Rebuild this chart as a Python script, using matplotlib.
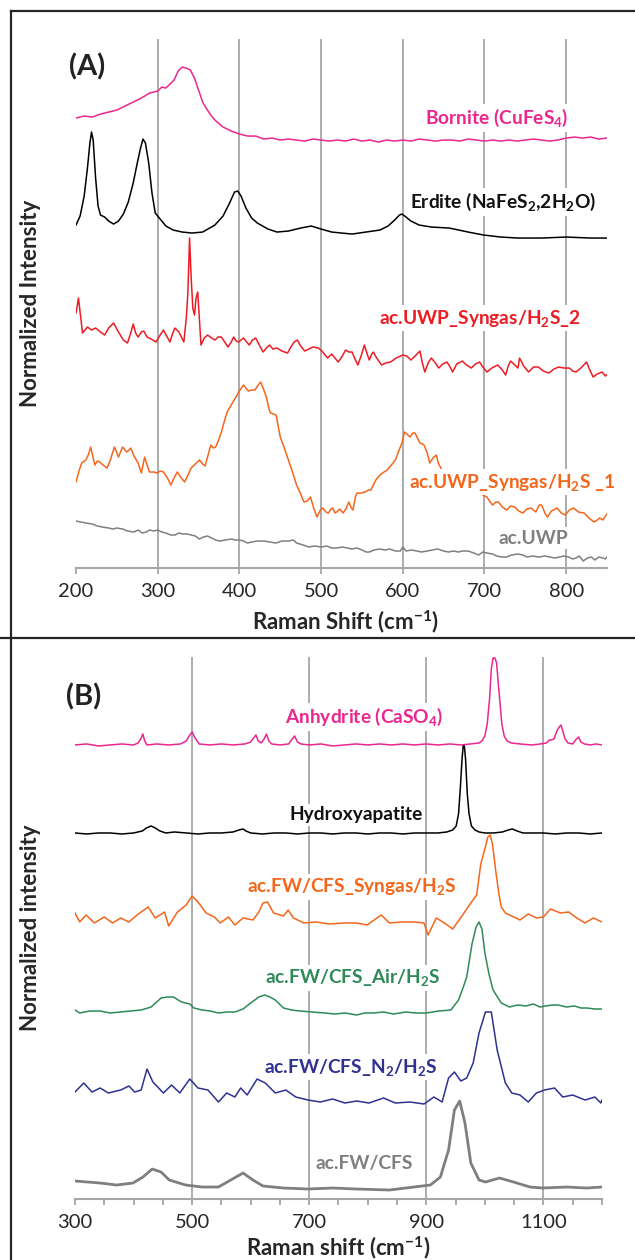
import matplotlib
matplotlib.use("Agg")
import matplotlib.pyplot as plt
from matplotlib.lines import Line2D

plt.rcParams['font.family'] = ['Lato', 'DejaVu Sans']
plt.rcParams['mathtext.fontset'] = 'custom'
plt.rcParams['mathtext.rm'] = 'Lato'
plt.rcParams['mathtext.bf'] = 'Lato:bold'
plt.rcParams['mathtext.it'] = 'Lato:italic'

# ---------------- panel A data (Raman shift, cm-1 / offset intensity, a.u.) ----------------
bornite_x = [200, 210, 220, 230, 240, 250, 260, 270, 280, 290, 300, 305, 310, 315, 320, 325, 330, 335,
             340, 345, 350, 355, 360, 365, 370, 380, 390, 400, 410, 420, 430, 440, 450, 460, 470, 480,
             490, 500, 510, 520, 530, 540, 550, 560, 570, 580, 590, 600, 610, 620, 630, 640, 650, 660,
             670, 680, 690, 700, 710, 720, 730, 740, 750, 760, 770, 780, 790, 800, 810, 820, 830, 840, 850]
bornite_y = [450, 452, 451, 454, 456, 458, 462, 466, 470, 475, 477, 481, 480, 484, 488, 497, 501, 500,
             498, 490, 478, 466, 459, 453, 448, 441, 437, 434, 432, 432, 429, 430, 428, 429, 428, 427,
             429, 428, 427, 428, 427, 429, 427, 428, 426, 428, 427, 428, 427, 429, 428, 427, 428, 428,
             427, 429, 428, 427, 428, 427, 428, 427, 428, 429, 428, 427, 428, 430, 431, 430, 431, 429, 430]

erdite_x = [200, 205, 210, 214, 217, 219, 221, 224, 227, 230, 235, 240, 246, 252, 258, 264, 270, 275,
            279, 282, 285, 289, 293, 297, 302, 310, 319, 330, 342, 355, 370, 380, 388, 394, 398, 402,
            408, 415, 422, 435, 446, 460, 475, 488, 500, 513, 525, 538, 555, 572, 582, 590, 596, 599,
            604, 610, 620, 635, 657, 680, 699, 720, 741, 770, 800, 830, 850]
erdite_y = [343, 352, 372, 400, 425, 436, 428, 390, 362, 353, 351, 347, 344, 347, 354, 366, 385, 405,
            420, 429, 425, 405, 375, 355, 350, 342, 338, 336, 335, 336, 343, 352, 365, 376, 377, 372,
            360, 350, 345, 339, 336, 337, 340, 342, 339, 336, 335, 334, 336, 338, 342, 348, 353, 354,
            351, 347, 343, 341, 340, 336, 333, 331, 330, 330, 331, 330, 330]

syn2_x = [200, 203, 208, 214, 219, 224, 230, 235, 240, 246, 252, 258, 263, 267, 270, 273, 276, 280,
          283, 287, 292, 298, 303, 307, 311, 315, 318, 321, 326, 332, 335, 337, 339, 341, 343, 345,
          347, 349, 351, 353, 357, 361, 366, 370, 374, 378, 382, 386, 390, 393, 396, 399, 402, 405,
          409, 412, 416, 420, 425, 429, 433, 437, 441, 446, 452, 459, 463, 467, 471, 475, 480, 485,
          490, 497, 502, 508, 513, 521, 526, 530, 534, 538, 541, 545, 549, 553, 556, 559, 562, 564,
          568, 574, 579, 585, 592, 600, 605, 610, 615, 621, 624, 627, 631, 635, 640, 644, 649, 654,
          658, 661, 666, 673, 678, 684, 689, 694, 698, 703, 709, 716, 721, 726, 729, 732, 736, 741,
          743, 748, 754, 760, 766, 772, 779, 785, 791, 797, 804, 808, 812, 818, 825, 829, 833, 838,
          844, 848, 851]
syn2_y = [255, 270, 235, 241, 238, 240, 236, 233, 240, 245, 236, 228, 225, 235, 244, 235, 231, 236,
          237, 231, 229, 226, 233, 238, 232, 226, 234, 240, 236, 226, 250, 276, 330, 290, 260, 253,
          270, 276, 250, 223, 230, 233, 230, 228, 231, 231, 226, 221, 226, 231, 227, 226, 228, 230,
          226, 223, 228, 230, 222, 216, 220, 223, 219, 220, 217, 215, 221, 226, 228, 222, 217, 219,
          221, 220, 216, 210, 214, 206, 212, 218, 216, 216, 210, 203, 212, 223, 215, 208, 214, 216,
          210, 203, 205, 206, 210, 213, 212, 208, 212, 217, 205, 196, 205, 210, 205, 200, 204, 206,
          201, 196, 204, 207, 203, 200, 204, 206, 201, 196, 200, 203, 199, 193, 202, 207, 204, 200,
          210, 202, 196, 201, 201, 197, 195, 199, 201, 200, 200, 197, 196, 200, 206, 198, 191, 194,
          196, 192, 194]

syn1_x = [200, 204, 207, 212, 215, 218, 221, 223, 226, 229, 233, 238, 242, 247, 250, 252, 255, 257,
          260, 262, 265, 267, 271, 276, 280, 282, 284, 287, 290, 295, 299, 303, 307, 312, 316, 320,
          324, 328, 333, 337, 341, 346, 351, 355, 358, 362, 365, 368, 371, 375, 378, 382, 385, 390,
          395, 400, 405, 408, 411, 415, 419, 423, 426, 430, 433, 436, 438, 442, 445, 450, 455, 460,
          465, 470, 475, 479, 483, 487, 491, 495, 499, 502, 506, 509, 512, 514, 517, 519, 523, 527,
          531, 534, 537, 539, 542, 544, 549, 554, 558, 561, 567, 572, 577, 581, 586, 591, 595, 599,
          602, 605, 609, 612, 615, 618, 621, 624, 626, 630, 633, 637, 641, 644, 646, 650, 655, 660,
          665, 670, 674, 678, 683, 688, 693, 698, 703, 707, 710, 714, 717, 722, 727, 732, 737, 742,
          747, 752, 757, 763, 767, 770, 774, 777, 782, 789, 794, 799, 804, 809, 815, 822, 828, 834,
          838, 841, 845, 848, 851]
syn1_y = [86, 98, 105, 108, 113, 121, 110, 103, 107, 106, 103, 100, 108, 121, 115, 111, 117, 121,
          118, 116, 118, 120, 112, 105, 95, 103, 111, 103, 96, 96, 95, 97, 96, 90, 83, 90,
          96, 91, 86, 93, 100, 104, 108, 104, 102, 114, 123, 120, 121, 129, 136, 148, 156, 163,
          170, 177, 183, 180, 177, 178, 178, 183, 186, 178, 171, 160, 155, 154, 153, 131, 120, 108,
          96, 83, 74, 66, 67, 71, 60, 51, 58, 60, 56, 55, 59, 60, 55, 56, 59, 55,
          60, 66, 60, 58, 71, 75, 75, 76, 78, 78, 88, 93, 96, 98, 103, 108, 117, 125,
          136, 134, 131, 135, 135, 130, 125, 124, 123, 115, 105, 110, 113, 104, 101, 95, 88, 82,
          80, 78, 76, 75, 74, 75, 76, 73, 71, 66, 63, 66, 66, 61, 58, 62, 61, 57,
          55, 59, 60, 56, 63, 63, 55, 51, 57, 60, 55, 53, 58, 60, 56, 55, 50, 46,
          48, 50, 48, 52, 55]

uwp_x = [200, 206, 212, 220, 226, 232, 240, 245, 250, 257, 263, 271, 276, 281, 286, 290, 295, 300,
         305, 310, 316, 321, 326, 331, 336, 341, 346, 351, 356, 361, 366, 371, 376, 383, 390, 395,
         400, 405, 410, 415, 422, 430, 437, 445, 452, 460, 466, 470, 478, 485, 492, 500, 507, 513,
         519, 526, 532, 538, 544, 550, 555, 559, 565, 572, 578, 584, 591, 597, 600, 604, 611, 617,
         623, 630, 636, 643, 650, 656, 662, 668, 673, 680, 687, 693, 698, 703, 710, 715, 721, 727,
         733, 741, 747, 752, 759, 767, 774, 780, 786, 792, 797, 803, 808, 812, 816, 821, 826, 831,
         835, 840, 845, 848, 851]
uwp_y = [47, 46, 45, 44, 42, 41, 40, 39, 40, 39, 37, 36, 38, 35, 36, 38, 37, 38,
         36, 35, 33, 33, 35, 34, 34, 33, 32, 29, 31, 32, 30, 28, 27, 28, 29, 28,
         28, 27, 25, 26, 27, 27, 26, 25, 27, 27, 28, 25, 23, 21, 22, 21, 22, 20,
         20, 21, 20, 19, 20, 18, 16, 16, 18, 19, 18, 19, 17, 17, 21, 17, 18, 17,
         16, 17, 18, 19, 17, 16, 17, 16, 17, 17, 15, 13, 16, 15, 14, 12, 11, 11,
         13, 14, 13, 11, 12, 11, 12, 11, 10, 11, 12, 11, 9, 10, 12, 7, 10, 11,
         8, 11, 10, 9, 12]

# ---------------- panel B data ----------------
anhy_x = [300, 320, 340, 360, 380, 400, 408, 413, 416, 419, 423, 440, 460, 480, 490, 495, 500, 505,
          512, 530, 550, 570, 590, 600, 605, 609, 613, 618, 623, 627, 631, 636, 650, 665, 671, 675,
          680, 686, 700, 720, 740, 760, 780, 800, 820, 840, 860, 880, 900, 920, 940, 960, 975, 990,
          995, 1000, 1004, 1008, 1011, 1014, 1017, 1020, 1023, 1026, 1029, 1033, 1038, 1045, 1060,
          1080, 1095, 1105, 1110, 1113, 1118, 1123, 1127, 1130, 1133, 1137, 1142, 1150, 1155, 1160,
          1164, 1170, 1180, 1190, 1200]
anhy_y = [454, 455, 453, 454, 455, 454, 456, 461, 465, 458, 454, 455, 454, 455, 458, 463, 467, 461,
          455, 454, 455, 454, 455, 457, 461, 464, 458, 456, 460, 465, 458, 455, 454, 455, 460, 463,
          457, 455, 454, 455, 453, 454, 455, 454, 455, 454, 455, 454, 455, 454, 455, 454, 455, 456,
          458, 463, 475, 500, 530, 541, 541, 536, 515, 495, 475, 463, 458, 456, 455,
          454, 455, 456, 459, 459, 460, 468, 472, 474, 468, 460, 456, 455, 459, 462,
          457, 455, 454, 455, 454]

hap_x = [300, 320, 340, 360, 380, 400, 415, 422, 430, 437, 445, 455, 470, 490, 510, 530, 550, 570,
         580, 587, 592, 600, 620, 640, 660, 680, 700, 720, 740, 760, 780, 800, 820, 840, 860, 880,
         900, 920, 935, 945, 951, 955, 958, 961, 963, 965, 967, 970, 973, 977, 983, 990, 1000, 1015,
         1030, 1040, 1047, 1055, 1065, 1080, 1100, 1120, 1140, 1160, 1180, 1200]
hap_y = [366, 365, 366, 366, 365, 366, 368, 371, 373, 371, 368, 366, 367, 366, 365, 366, 366, 367,
         369, 370, 368, 366, 365, 366, 366, 365, 366, 366, 365, 366, 366, 365, 366, 366, 365, 366,
         366, 366, 367, 369, 373, 385, 410, 440, 453, 453, 440, 405, 385, 373, 369, 367, 366, 366,
         367, 369, 370, 368, 366, 366, 366, 365, 366, 366, 365, 366]

fwsyn_x = [300, 308, 319, 333, 350, 364, 378, 392, 406, 425, 437, 453, 460, 475, 490, 500, 510, 524,
           538, 548, 562, 573, 587, 604, 614, 621, 629, 639, 656, 664, 673, 691, 712, 733, 761, 781,
           799, 823, 837, 858, 879, 896, 903, 917, 931, 945, 962, 976, 986, 993, 1000, 1005, 1009,
           1013, 1019, 1024, 1028, 1035, 1042, 1060, 1074, 1088, 1100, 1112, 1129, 1143, 1157, 1171,
           1185, 1200]
fwsyn_y = [286, 277, 284, 276, 282, 276, 281, 277, 284, 292, 281, 287, 273, 287, 294, 303, 297, 286,
           282, 276, 282, 274, 281, 279, 287, 296, 297, 286, 283, 289, 281, 276, 277, 275, 276, 276,
           274, 284, 276, 277, 277, 276, 264, 281, 276, 270, 284, 296, 304, 335, 350, 362, 364,
           355, 326, 305, 292, 286, 284, 279, 285, 281, 282, 290, 286, 287, 281, 276,
           281, 277]

air_x = [300, 308, 325, 343, 360, 378, 395, 413, 430, 447, 458, 468, 482, 496, 503, 517, 531, 545,
         559, 573, 587, 600, 614, 624, 633, 642, 656, 670, 684, 705, 726, 744, 761, 781, 795, 809,
         827, 844, 865, 882, 900, 921, 942, 955, 962, 969, 978, 985, 990, 995, 1000, 1007, 1014,
         1028, 1042, 1056, 1070, 1083, 1094, 1104, 1115, 1125, 1139, 1153, 1164, 1174, 1188, 1200]
air_y = [189, 186, 188, 188, 186, 187, 188, 189, 192, 201, 202, 202, 197, 195, 191, 189, 188, 186,
         187, 187, 190, 196, 202, 204, 202, 199, 191, 189, 188, 187, 186, 185, 186, 184, 186, 186,
         187, 185, 187, 186, 186, 188, 189, 199, 210, 222, 255, 272, 277, 270, 246, 225, 209,
         196, 192, 194, 193, 195, 192, 193, 194, 194, 192, 193, 191, 191, 190, 190]

n2_x = [300, 315, 329, 343, 357, 378, 392, 402, 413, 423, 433, 451, 465, 479, 496, 510, 527, 545,
        559, 573, 583, 594, 611, 625, 642, 660, 677, 698, 719, 740, 761, 781, 802, 827, 847, 872,
        896, 913, 927, 938, 948, 959, 969, 980, 990, 1001, 1011, 1021, 1035, 1046, 1060, 1074, 1088,
        1102, 1119, 1133, 1150, 1171, 1188, 1198, 1200]
n2_y = [107, 116, 107, 111, 106, 109, 113, 107, 109, 130, 117, 106, 114, 106, 120, 111, 109, 97,
        106, 102, 111, 104, 120, 116, 106, 109, 102, 99, 97, 100, 96, 98, 96, 101, 96, 97,
        95, 102, 97, 121, 127, 118, 121, 136, 166, 187, 187, 149, 116, 106, 104, 97, 106,
        109, 111, 102, 104, 99, 102, 96, 99]

fw_x = [300, 343, 371, 399, 416, 432, 447, 461, 489, 517, 545, 566, 587, 604, 621, 656, 698, 740,
        781, 837, 879, 907, 924, 938, 948, 957, 966, 976, 990, 1001, 1025, 1049, 1077, 1098, 1140,
        1174, 1200]
fw_y = [18, 16, 14, 16, 22, 30, 27, 19, 14, 12, 12, 19, 26, 19, 13, 11, 10, 11,
        10, 9, 12, 14, 22, 49, 89, 98, 76, 36, 19, 17, 21, 17, 12, 11, 12,
        11, 12]

PINK = '#EC268F'
RED = '#ED1C24'
ORANGE = '#F4661B'
GREY = '#7F7F7F'
GREEN = '#2E8A57'
BLUE = '#2E3192'
GRID = '#A6A6A6'

fig = plt.figure(figsize=(6.35, 12.6), dpi=100)

axA = fig.add_axes([0.1197, 0.5492, 0.8362, 0.4198])
axB = fig.add_axes([0.1181, 0.0484, 0.8299, 0.4302])


def style_axes(ax, xlim, ylim, grid_at):
    ax.set_xlim(*xlim)
    ax.set_ylim(*ylim)
    for s in ['top', 'left', 'right']:
        ax.spines[s].set_visible(False)
    ax.spines['bottom'].set_color(GRID)
    ax.spines['bottom'].set_linewidth(1.5)
    ax.set_yticks([])
    ax.tick_params(axis='x', which='both', direction='out', color=GRID, width=1.3,
                   labelsize=14.5, labelcolor='#262626', pad=7)
    ax.tick_params(axis='x', which='major', length=4)
    ax.tick_params(axis='x', which='minor', length=4)
    for g in grid_at:
        ax.axvline(g, color=GRID, lw=1.3, zorder=0)


style_axes(axA, (200, 850), (0, 529), [300, 400, 500, 600, 700, 800])
axA.set_xticks([200, 300, 400, 500, 600, 700, 800])

axA.plot(bornite_x, bornite_y, color=PINK, lw=1.1)
axA.plot(erdite_x, erdite_y, color='black', lw=1.1)
axA.plot(syn2_x, syn2_y, color=RED, lw=1.1)
axA.plot(syn1_x, syn1_y, color=ORANGE, lw=1.1)
axA.plot(uwp_x, uwp_y, color=GREY, lw=1.1)

box = dict(facecolor='white', edgecolor='none', pad=2)
lab = dict(fontsize=13.8, fontweight='bold', ha='center', va='center', bbox=box, zorder=5, clip_on=False)
axA.text(213, 501, '(A)', fontsize=21, fontweight='bold', ha='center', va='center', color='#222222')
axA.text(715, 450, r'Bornite (CuFeS$_\mathbf{4}$)', color=PINK, **lab)
axA.text(723, 366, r'Erdite (NaFeS$_\mathbf{2}$,2H$_\mathbf{2}$O)', color='#111111', **lab)
axA.text(695, 250, r'ac.UWP_Syngas/H$_\mathbf{2}$S_2', color=RED, **lab)
axA.text(734, 86, r'ac.UWP_Syngas/H$_\mathbf{2}$S _1', color=ORANGE, **lab)
axA.text(760, 30, 'ac.UWP', color=GREY, **lab)

style_axes(axB, (300, 1200), (0, 542), [500, 700, 900, 1100])
axB.set_xticks([300, 500, 700, 900, 1100])
axB.set_xticks(list(range(350, 1201, 50)), minor=True)

axB.plot(anhy_x, anhy_y, color=PINK, lw=1.1)
axB.plot(hap_x, hap_y, color='black', lw=1.1)
axB.plot(fwsyn_x, fwsyn_y, color=ORANGE, lw=1.1)
axB.plot(air_x, air_y, color=GREEN, lw=1.1)
axB.plot(n2_x, n2_y, color=BLUE, lw=1.1)
axB.plot(fw_x, fw_y, color=GREY, lw=2.0)

axB.text(314, 502, '(B)', fontsize=21, fontweight='bold', ha='center', va='center', color='#222222')
axB.text(794, 482, r'Anhydrite (CaSO$_\mathbf{4}$)', color=PINK, **lab)
axB.text(780, 384, 'Hydroxyapatite', color='#111111', **lab)
axB.text(772, 312, r'ac.FW/CFS_Syngas/H$_\mathbf{2}$S', color=ORANGE, **lab)
axB.text(774, 221, r'ac.FW/CFS_Air/H$_\mathbf{2}$S', color=GREEN, **lab)
axB.text(770, 132, r'ac.FW/CFS_N$_\mathbf{2}$/H$_\mathbf{2}$S', color=BLUE, **lab)
axB.text(794, 36, 'ac.FW/CFS', color=GREY, **lab)

# axis titles
title = dict(fontsize=16, fontweight='bold', ha='center', va='center', color='#262626')
fig.text(346 / 635, 1 - 622 / 1260, r'Raman Shift (cm$^{\mathbf{-1}}$)', **title)
fig.text(338 / 635, 1 - 1248 / 1260, r'Raman shift (cm$^{\mathbf{-1}}$)', **title)
fig.text(31 / 635, 1 - 303 / 1260, 'Normalized Intensity', rotation=90, **title)
fig.text(31 / 635, 1 - 928 / 1260, 'Normalized intensity', rotation=90, **title)

# panel frames
frame = dict(color='#262626', lw=1.6, transform=fig.transFigure)
fig.add_artist(Line2D([11 / 635, 1.0], [1 - 11 / 1260, 1 - 11 / 1260], **frame))
fig.add_artist(Line2D([11 / 635, 11 / 635], [1 - 11 / 1260, 0.0], **frame))
fig.add_artist(Line2D([0.0, 1.0], [1 - 638 / 1260, 1 - 638 / 1260], **frame))

fig.savefig('out.png', dpi=100)
